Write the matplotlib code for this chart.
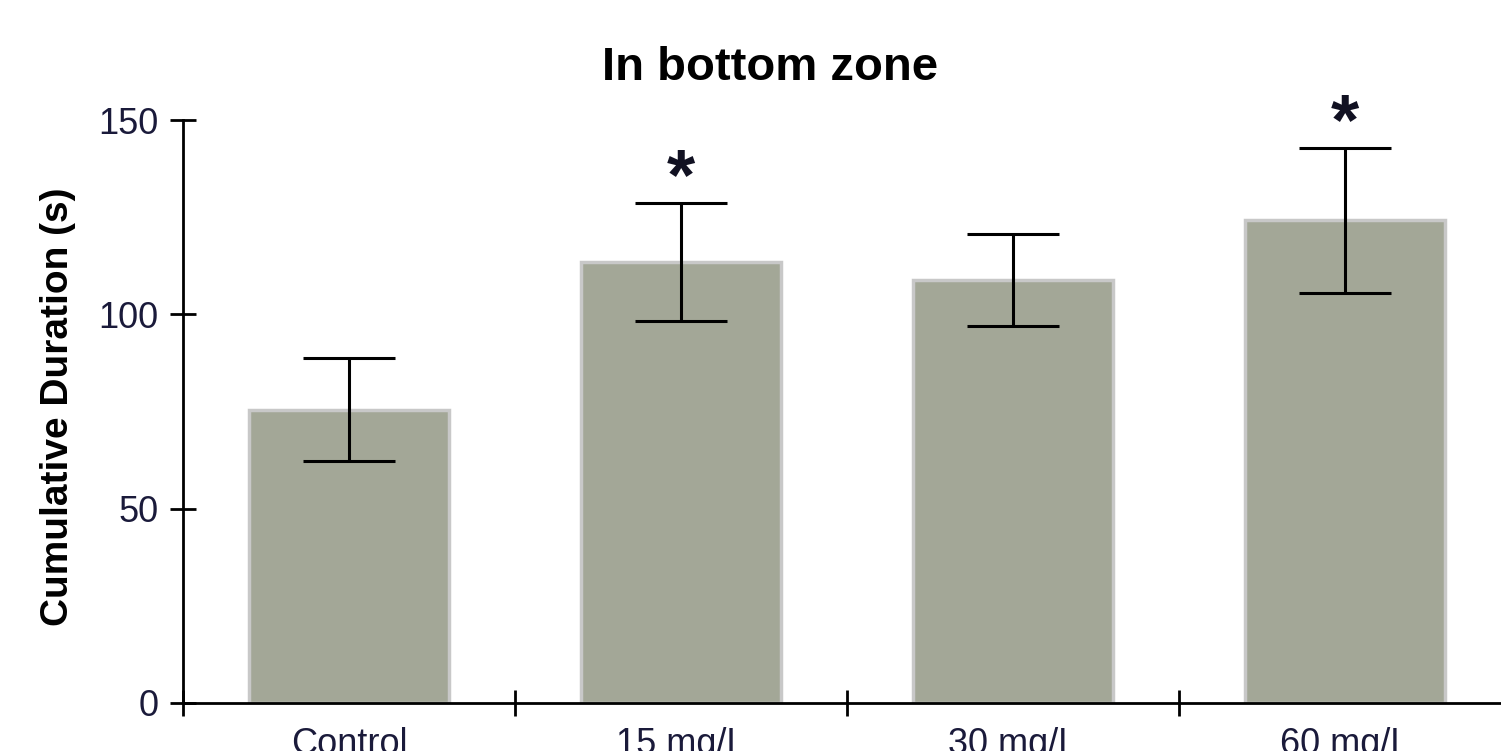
import numpy as np
import matplotlib.pyplot as plt

plt.rcParams['font.family'] = ['Liberation Sans', 'DejaVu Sans']

groups = ['Control', '15 mg/L', '30 mg/L', '60 mg/L']
means = [75.5, 113.5, 108.8, 124.2]
errors = [13.2, 15.2, 11.8, 18.7]
significant = [False, True, False, True]

BAR_COLOR = '#a3a797'
EDGE_COLOR = '#c8c8c8'
LABEL_COLOR = '#1a1a3a'

fig = plt.figure(figsize=(15.01, 7.51), dpi=100)
ax = fig.add_axes([183 / 1501, 48 / 751, 1328 / 1501, 583 / 751])

x_pos = np.arange(len(groups))
ax.bar(x_pos, means, width=0.6, color=BAR_COLOR, edgecolor=EDGE_COLOR, linewidth=2.5, zorder=2)
ax.errorbar(x_pos, means, yerr=errors, fmt='none', ecolor='black', elinewidth=2.2,
            capsize=33, capthick=2.2, zorder=3)

# significance stars above the error bars
for x, m, e, s in zip(x_pos, means, errors, significant):
    if s:
        ax.annotate('*', xy=(x, m + e), xytext=(0, -8), textcoords='offset points',
                    ha='center', va='bottom', fontsize=52, fontweight='bold', color='#111122')

ax.set_xlim(-0.5, len(groups) - 0.5)
ax.set_ylim(0, 150)
ax.set_yticks([0, 50, 100, 150])
ax.set_xticks(x_pos)
ax.set_xticklabels(groups)
ax.set_xticks(np.arange(len(groups) + 1) - 0.5, minor=True)

ax.tick_params(axis='x', which='major', length=0, pad=17, labelsize=26, labelcolor=LABEL_COLOR)
ax.tick_params(axis='x', which='minor', direction='inout', length=19, width=2)
ax.tick_params(axis='y', direction='inout', length=19, width=2, pad=8,
               labelsize=26, labelcolor=LABEL_COLOR)

for side in ['top', 'right']:
    ax.spines[side].set_visible(False)
for side in ['left', 'bottom']:
    ax.spines[side].set_linewidth(2)

ax.set_ylabel('Cumulative Duration (s)', fontsize=28, fontweight='bold')
ax.yaxis.set_label_coords(-0.0806, 0.508)

fig.text(770 / 1501, (751 - 80) / 751, 'In bottom zone', ha='center', va='baseline',
         fontsize=34, fontweight='bold')

fig.savefig('out.png', dpi=100)
